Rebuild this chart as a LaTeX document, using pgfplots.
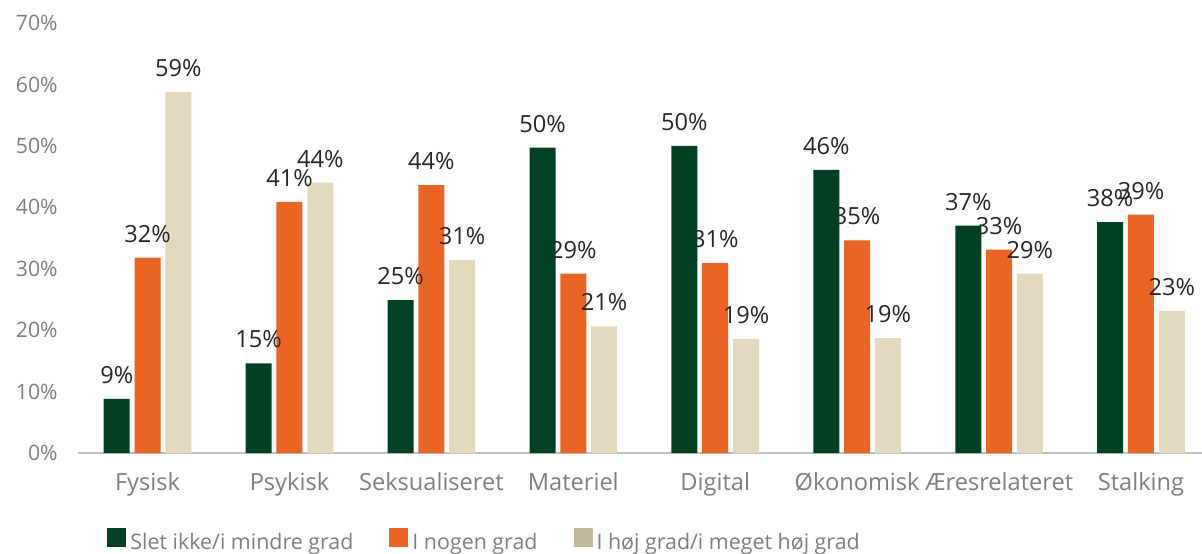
\documentclass[border=0pt]{standalone}
\usepackage{fontspec}
\setmainfont{Open Sans}
\usepackage{pgfplots}
\pgfplotsset{compat=1.18}
\definecolor{cgreen}{HTML}{014023}
\definecolor{corange}{HTML}{EA6424}
\definecolor{cbeige}{HTML}{E2D9BE}
\definecolor{cbeigeleg}{HTML}{C4B99B}
\definecolor{ticktext}{HTML}{7F7F7F}
\definecolor{labtext}{HTML}{262626}
\begin{document}
\begin{tikzpicture}
\useasboundingbox (0,0) rectangle (601pt,276.5pt);
\begin{axis}[
  at={(39pt,50pt)}, anchor=south west,
  scale only axis, width=562pt, height=215pt,
  xmin=-0.49, xmax=7.43, ymin=0, ymax=70,
  enlargelimits=false,
  axis x line*=bottom, axis y line*=left,
  x axis line style={draw=black!25, line width=0.8pt, -},
  y axis line style={draw=none},
  major tick length=0pt,
  /pgf/number format/assume math mode=true,
  ytick={0,10,...,70},
  yticklabel={\pgfmathprintnumber{\tick}\%},
  yticklabel style={font=\fontsize{10.6}{12}\selectfont, text=ticktext, anchor=east, inner sep=0pt, xshift=-10pt},
  xtick={0,...,7},
  xticklabels={Fysisk, Psykisk, Seksualiseret, Materiel, Digital, Økonomisk, Æresrelateret, Stalking},
  xticklabel style={font=\fontsize{11.8}{13}\selectfont, text=ticktext, anchor=base, inner sep=0pt, yshift=-18.5pt},
  ybar, bar width=13pt,
  nodes near coords={\pgfmathprintnumber[fixed,precision=0]{\pgfplotspointmeta}\%},
  nodes near coords style={font=\fontsize{11.8}{13}\selectfont, text=labtext, inner sep=0pt, yshift=7.5pt},
  legend image code/.code={\fill[#1] (0pt,-2.5pt) rectangle (9.5pt,7pt);},
  legend style={at={(0.0258,-0.1746)}, anchor=north west, draw=none, fill=none,
    inner sep=0pt, font=\fontsize{10.7}{12}\selectfont, text=ticktext,
    /tikz/every even column/.append style={column sep=16pt}},
  legend columns=3, legend cell align=left,
]
\addplot[fill=cgreen, draw=none, bar shift=-15.4pt] coordinates {
 (0,8.8) (1,14.6) (2,24.9) (3,49.7) (4,50.0) (5,46.1) (6,37.0) (7,37.6)};
\addlegendentry{Slet ikke/i mindre grad}
\addplot[fill=corange, draw=none, bar shift=0pt] coordinates {
 (0,31.8) (1,40.9) (2,43.6) (3,29.2) (4,30.9) (5,34.6) (6,33.1) (7,38.8)};
\addlegendentry{I nogen grad}
\addplot[fill=cbeige, draw=none, bar shift=15.4pt, legend image post style={fill=cbeigeleg}] coordinates {
 (0,58.8) (1,44.0) (2,31.4) (3,20.6) (4,18.6) (5,18.7) (6,29.2) (7,23.1)};
\addlegendentry{I høj grad/i meget høj grad}
\end{axis}
\end{tikzpicture}
\end{document}
